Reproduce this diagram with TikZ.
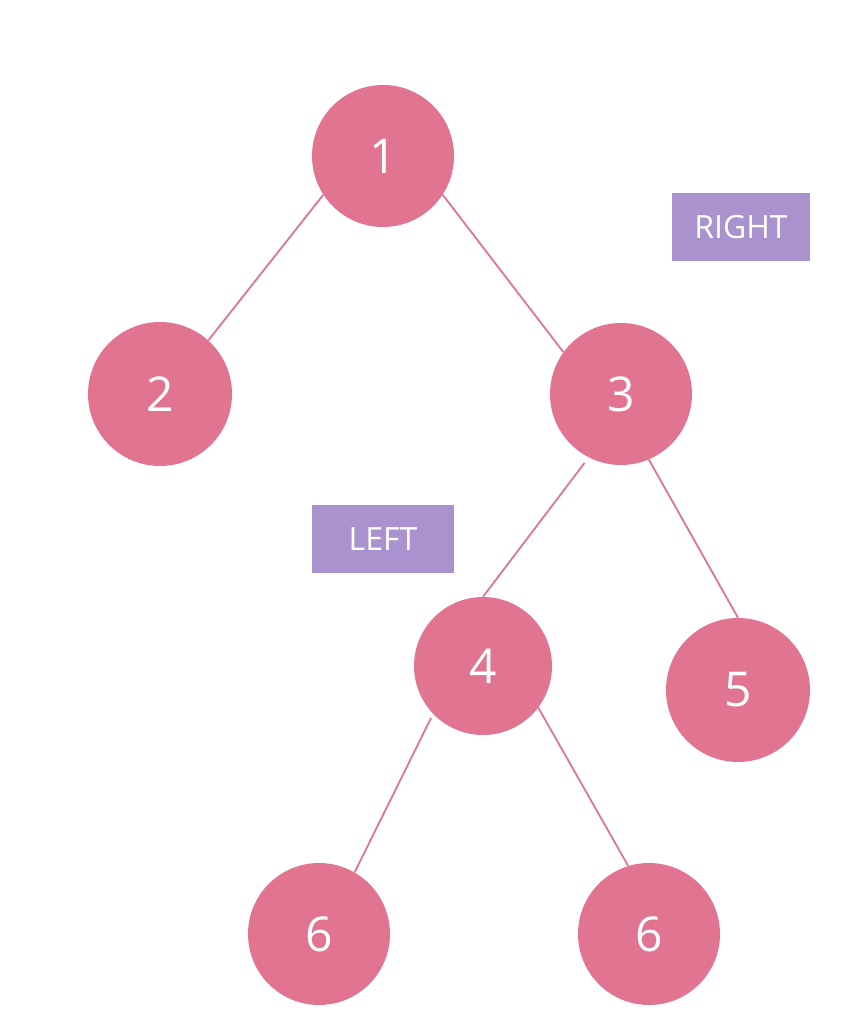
\documentclass[tikz,border=0pt]{standalone}
\usepackage{fontspec}
\setmainfont{Open Sans}
\definecolor{pinkc}{HTML}{E17490}
\definecolor{purplec}{HTML}{A992CE}
\begin{document}
\begin{tikzpicture}[x=1pt,y=-1pt,
  treenode/.style={circle,fill=pinkc,draw=none,minimum size=142pt,inner sep=0pt,text=white,font=\fontsize{48}{50}\selectfont},
  tag/.style={rectangle,fill=purplec,draw=none,minimum width=140pt,minimum height=68pt,inner sep=0pt,text=white,font=\fontsize{32}{34}\selectfont},
  edge/.style={draw=pinkc,line width=1.8pt}]
\useasboundingbox (0,0) rectangle (866,1036);
\node[treenode] (n1) at (383,156) {1};
\node[treenode,minimum size=144pt] (n2) at (160,394) {2};
\node[treenode] (n3) at (621,394) {3};
\node[treenode,minimum size=138pt] (n4) at (483,666) {4};
\node[treenode,minimum size=144pt] (n5) at (738,690) {5};
\node[treenode] (n6a) at (319,934) {6};
\node[treenode] (n6b) at (649,934) {6};
\node[tag,minimum width=138pt] (right) at (741,227) {RIGHT};
\node[tag,minimum width=142pt] (left) at (383,539) {LEFT};
\draw[edge] (n1.213) -- (n2.48);
\draw[edge] (n1.327) -- (n3.144);
\draw[edge] ([shift={(-3pt,-6pt)}]n3.242) -- (n4.90);
\draw[edge] (n3.293) -- (n5.90);
\draw[edge] ([shift={(-3pt,-3pt)}]n4.225) -- (n6a.60);
\draw[edge] (n4.323) -- (n6b.107);
\end{tikzpicture}
\end{document}
